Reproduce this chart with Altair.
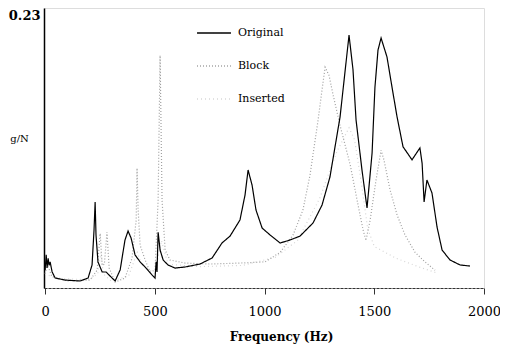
import altair as alt
import pandas as pd

series_names = ["Original", "Block", "Inserted"]
series_colors = ["#000000", "#a0a0a0", "#d6d6d6"]
series_dash = [[1, 0], [1, 2], [1, 3]]

orig_freq = [0, 5, 9, 14, 18, 23, 32, 46, 91, 159, 196, 214, 223, 228, 232, 241, 260, 278, 296, 319,
             342, 364, 378, 392, 410, 433, 460, 487, 501, 506, 510, 515, 524, 538, 560, 592, 638, 706,
             761, 806, 843, 888, 911, 925, 943, 961, 989, 1025, 1071, 1116, 1162, 1221, 1262, 1298,
             1344, 1376, 1385, 1403, 1417, 1444, 1467, 1490, 1503, 1517, 1531, 1558, 1581, 1604, 1631,
             1672, 1708, 1718, 1727, 1740, 1763, 1786, 1809, 1845, 1891, 1936]
orig_val = [0.015, 0.028, 0.017, 0.025, 0.019, 0.022, 0.0135, 0.0084, 0.0067, 0.0059, 0.0084, 0.0194,
            0.049, 0.0725, 0.0447, 0.022, 0.0135, 0.0135, 0.0101, 0.0059, 0.0152, 0.0404, 0.048, 0.042,
            0.0278, 0.022, 0.0168, 0.011, 0.0084, 0.022, 0.0135, 0.047, 0.032, 0.0236, 0.0194, 0.0168,
            0.0177, 0.0202, 0.0253, 0.0379, 0.0438, 0.0573, 0.0783, 0.0994, 0.0868, 0.0657, 0.0505,
            0.0447, 0.0379, 0.0404, 0.0438, 0.0548, 0.0699, 0.0935, 0.144, 0.198, 0.213, 0.184, 0.1415,
            0.0994, 0.0674, 0.1137, 0.169, 0.2005, 0.2106, 0.1946, 0.169, 0.144, 0.119, 0.108, 0.118,
            0.105, 0.0725, 0.091, 0.080, 0.0514, 0.032, 0.0236, 0.0194, 0.0185]

block_freq = [0, 10, 30, 100, 205, 237, 251, 260, 270, 282, 292, 319, 364, 396, 415, 419, 424, 433,
              456, 478, 501, 515, 524, 533, 547, 569, 638, 752, 888, 1002, 1071, 1130, 1175, 1207,
              1244, 1262, 1276, 1294, 1312, 1344, 1390, 1426, 1449, 1462, 1481, 1508, 1531, 1544,
              1572, 1604, 1640, 1686, 1731, 1777]
block_val = [0.012, 0.02, 0.01, 0.006, 0.0067, 0.015, 0.046, 0.019, 0.02, 0.047, 0.0168, 0.005, 0.0084,
             0.025, 0.057, 0.101, 0.066, 0.036, 0.0236, 0.0135, 0.015, 0.074, 0.196, 0.074, 0.032,
             0.0236, 0.021, 0.0202, 0.021, 0.022, 0.030, 0.0447, 0.0657, 0.095, 0.1415, 0.167, 0.186,
             0.179, 0.163, 0.137, 0.104, 0.070, 0.049, 0.040, 0.057, 0.091, 0.116, 0.108, 0.0826,
             0.0615, 0.0447, 0.030, 0.022, 0.015]

ins_freq = [0, 50, 200, 240, 255, 265, 300, 380, 420, 440, 500, 530, 560, 700, 900, 1050, 1150, 1250,
            1330, 1385, 1410, 1440, 1470, 1500, 1550, 1600, 1700, 1780]
ins_val = [0.012, 0.008, 0.007, 0.012, 0.03, 0.012, 0.006, 0.01, 0.03, 0.02, 0.012, 0.04, 0.02, 0.018,
           0.019, 0.026, 0.04, 0.075, 0.115, 0.135, 0.125, 0.09, 0.05, 0.035, 0.03, 0.025, 0.018, 0.013]

x_ticks = [0, 500, 1000, 1500, 2000]
y_ticks = [0.23]

frames = []
for name, fr, vals in [("Original", orig_freq, orig_val),
                       ("Block", block_freq, block_val),
                       ("Inserted", ins_freq, ins_val)]:
    d = pd.DataFrame({"freq": fr, "val": vals})
    d["series"] = name
    d["idx"] = range(len(d))
    frames.append(d)
df = pd.concat(frames[::-1], ignore_index=True)

serif = "DejaVu Serif"

legend = alt.Legend(
    title=None, orient="none", legendX=152, legendY=7, symbolType="stroke",
    symbolSize=1150, symbolStrokeWidth=1.5, labelFont=serif, labelFontSize=11,
    labelColor="#000", labelOffset=6, rowPadding=10, padding=0, labelLimit=200,
)

chart = alt.Chart(df).mark_line(strokeWidth=1.2).encode(
    x=alt.X("freq:Q", scale=alt.Scale(domain=[-5, 2000], nice=False),
            axis=alt.Axis(values=x_ticks, title="Frequency (Hz)", grid=False, tickSize=6,
                          labelPadding=11, labelFont=serif, labelFontSize=13, labelColor="#000",
                          titleFont=serif, titleFontSize=12, titleFontWeight="bold",
                          titleColor="#000", titlePadding=13, titleX=237, titleAlign="center",
                          domainColor="#333", domainDash=[3, 1], tickColor="#333",
                          labelFlush=False, format="d")),
    y=alt.Y("val:Q", scale=alt.Scale(domain=[0, 0.2359], nice=False, zero=True),
            axis=alt.Axis(values=y_ticks, title="g/N", grid=False, tickSize=0, labelPadding=4,
                          labelFont=serif, labelFontSize=13, labelFontWeight="bold",
                          labelColor="#000", titleFont=serif, titleFontSize=10,
                          titleFontWeight="normal", titleColor="#000", titleAngle=0,
                          titleAlign="center", titleBaseline="middle", titleX=-25, titleY=130,
                          domainColor="#000", domainWidth=1.5, format=".2f")),
    color=alt.Color("series:N", scale=alt.Scale(domain=series_names, range=series_colors),
                    legend=legend),
    strokeDash=alt.StrokeDash("series:N", scale=alt.Scale(domain=series_names, range=series_dash),
                              legend=legend),
    order="idx:Q",
).properties(
    width=440, height=280,
    autosize=alt.AutoSizeParams(type="none"),
    padding={"left": 36, "top": 0, "right": 16, "bottom": 56},
).configure_view(
    stroke="#888", strokeDash=[2, 2], strokeWidth=1
).configure(background="white")

chart.save("out.html", embed_options={"renderer": "svg", "actions": False})
